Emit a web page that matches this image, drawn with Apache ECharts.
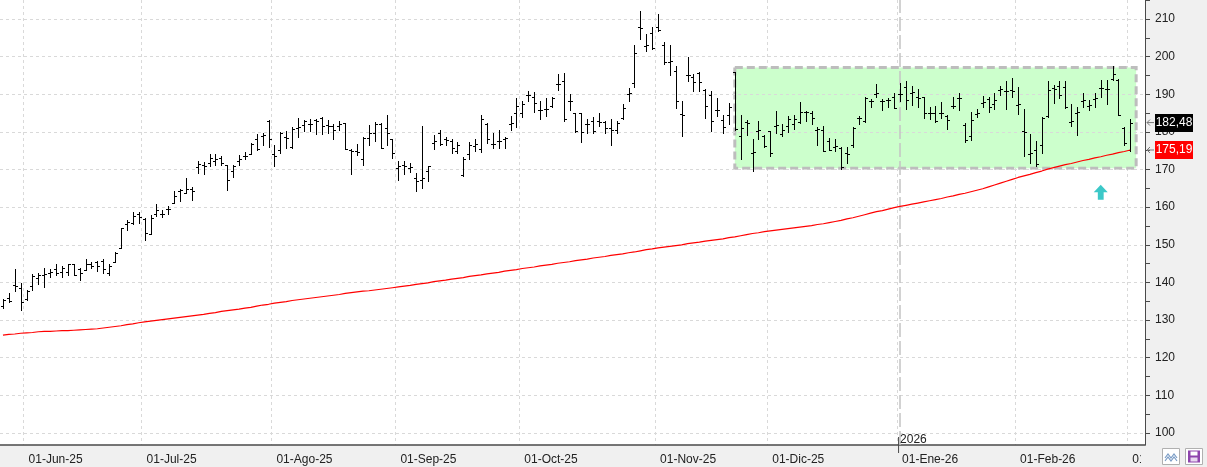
<!DOCTYPE html>
<html lang="es">
<head>
<meta charset="UTF-8">
<title>Cotización diaria</title>
<script src="https://cdn.jsdelivr.net/npm/echarts@6/dist/echarts.min.js"></script>
<style>
  html, body { margin: 0; padding: 0; background: #f0f0f0; }
  #chart { width: 1207px; height: 467px; }
</style>
</head>
<body>
<div id="chart"></div>
<script>
// sesiones: del 27-May-25 al 04-Mar-26 (los dos ultimos huecos quedan vacios)
var firstDay = '2025-05-27';
var lastDay = '2026-03-04';
var holidays = ['2025-06-19', '2025-07-04', '2025-09-01', '2025-11-27', '2025-12-25',
                '2026-01-01', '2026-01-19', '2026-02-16'];
var monthNames = ['Ene', 'Feb', 'Mar', 'Abr', 'May', 'Jun', 'Jul', 'Ago', 'Sep', 'Oct', 'Nov', 'Dic'];

var opens = [
  133.7, 135.9, 139.2, 138.6, 135.7, 139.0, 141.2, 142.1, 142.6, 143.5,
  142.7, 142.7, 144.8, 143.5, 143.4, 144.8, 145.4, 145.7, 142.6, 145.4,
  149.2, 155.4, 155.8, 158.3, 156.9, 152.9, 158.1, 158.3, 159.4, 161.2,
  164.2, 163.8, 164.7, 170.8, 171.3, 171.8, 172.2, 173.1, 171.3, 169.6,
  172.2, 173.5, 174.0, 178.0, 178.8, 182.8, 174.0, 175.3, 178.6, 175.9,
  181.1, 181.8, 182.2, 183.1, 183.7, 181.9, 181.5, 181.7, 182.4, 175.3,
  174.9, 172.7, 178.4, 179.7, 182.2, 181.1, 178.2, 170.4, 171.1, 170.4,
  167.8, 167.3, 169.6, 177.1, 179.7, 178.0, 177.5, 174.9, 168.5, 174.0,
  176.3, 175.5, 182.0, 176.9, 177.5, 178.1, 182.1, 185.0, 185.0, 189.7,
  189.2, 185.7, 186.2, 186.8, 192.6, 193.5, 188.1, 185.0, 185.0, 182.1,
  183.0, 182.8, 182.7, 181.1, 180.6, 183.7, 190.1, 193.0, 207.8, 202.9,
  206.3, 207.8, 203.2, 198.6, 196.3, 184.8, 195.0, 194.5, 195.6, 191.2,
  189.8, 185.7, 183.2, 184.5, 196.0, 178.9, 182.7, 174.5, 180.3, 178.9,
  180.3, 181.6, 179.4, 181.7, 182.0, 182.7, 185.4, 185.0, 180.5, 180.5,
  177.7, 176.1, 175.8, 174.3, 176.4, 183.6, 182.9, 188.1, 190.1, 188.1,
  188.5, 189.2, 190.0, 191.9, 190.4, 189.2, 189.4, 185.1, 185.1, 185.0,
  184.1, 186.9, 188.9, 181.9, 178.8, 184.7, 187.8, 188.7, 187.4, 191.2,
  190.9, 191.2, 187.2, 180.3, 174.2, 175.2, 176.5, 184.2, 191.6, 192.2,
  192.0, 182.7, 185.1, 188.3, 186.9, 188.8, 191.6, 191.3, 194.1, 193.8,
  181.0, 175.2
];
var highs = [
  135.7, 137.3, 143.5, 139.9, 138.1, 142.2, 142.4, 143.9, 143.5, 145.0,
  144.3, 145.0, 145.0, 143.9, 146.3, 145.4, 145.7, 146.1, 145.0, 148.1,
  154.5, 156.7, 158.8, 158.8, 157.2, 157.8, 160.9, 159.2, 160.3, 164.4,
  164.7, 167.8, 165.4, 172.2, 171.9, 174.2, 174.2, 173.5, 171.3, 171.3,
  173.8, 174.7, 177.0, 179.5, 179.7, 183.1, 176.6, 180.0, 180.2, 181.3,
  183.7, 183.1, 183.5, 183.3, 184.0, 183.1, 182.2, 183.0, 182.4, 175.5,
  176.8, 178.7, 181.9, 182.6, 182.4, 184.6, 178.2, 172.2, 172.2, 171.8,
  169.1, 181.7, 170.9, 179.3, 180.4, 178.7, 178.1, 177.3, 173.3, 177.2,
  178.0, 184.6, 182.4, 179.7, 180.4, 178.6, 184.2, 188.9, 188.3, 191.0,
  190.6, 188.1, 189.0, 189.2, 195.5, 195.7, 190.1, 185.0, 185.0, 183.3,
  183.9, 185.0, 182.8, 183.5, 183.0, 187.4, 191.7, 203.2, 212.2, 206.0,
  207.8, 211.3, 203.9, 203.0, 197.4, 188.3, 199.8, 195.4, 195.8, 191.3,
  190.9, 189.1, 184.5, 187.8, 196.0, 184.5, 183.2, 178.1, 182.9, 179.2,
  180.3, 185.6, 182.1, 184.3, 184.5, 187.9, 185.6, 185.6, 181.2, 181.6,
  178.3, 178.1, 176.1, 176.1, 181.2, 184.1, 189.2, 188.7, 192.7, 188.7,
  189.0, 190.4, 192.9, 193.6, 192.2, 191.4, 189.4, 186.7, 187.0, 187.9,
  184.5, 189.4, 190.3, 182.3, 185.4, 186.0, 189.6, 189.2, 190.3, 192.2,
  193.4, 194.2, 192.0, 186.0, 179.5, 177.7, 183.9, 193.4, 192.5, 193.4,
  193.4, 187.3, 186.5, 190.4, 188.5, 190.3, 193.8, 193.8, 197.6, 194.0,
  181.2, 183.5
];
var lows = [
  133.3, 134.8, 137.7, 132.8, 135.3, 138.1, 139.6, 138.8, 141.4, 141.9,
  141.5, 141.9, 141.9, 140.6, 143.3, 143.9, 143.0, 142.6, 141.9, 145.4,
  149.2, 153.9, 155.4, 155.8, 151.4, 152.9, 157.6, 157.4, 158.2, 161.2,
  161.6, 163.8, 162.0, 169.1, 168.8, 170.9, 171.3, 171.3, 164.5, 168.1,
  171.2, 172.7, 174.0, 175.1, 176.4, 176.0, 170.9, 174.4, 175.6, 175.8,
  178.7, 180.2, 180.2, 179.5, 179.5, 179.6, 178.1, 180.6, 175.5, 168.7,
  173.8, 171.2, 176.6, 177.5, 175.6, 176.5, 173.1, 167.2, 168.9, 169.4,
  164.2, 165.1, 166.9, 175.5, 176.5, 176.5, 174.4, 174.4, 168.2, 172.7,
  175.0, 174.6, 177.1, 175.6, 175.6, 175.6, 180.4, 181.3, 183.9, 188.1,
  185.3, 183.3, 184.2, 186.6, 191.2, 183.0, 185.7, 179.9, 177.3, 179.7,
  179.7, 181.5, 179.7, 176.6, 179.7, 183.5, 188.3, 191.9, 204.7, 201.4,
  202.1, 206.9, 198.1, 195.0, 186.4, 178.8, 193.5, 191.0, 191.0, 183.6,
  180.3, 184.1, 179.6, 182.1, 180.5, 172.7, 179.2, 169.5, 178.1, 176.1,
  173.5, 179.8, 179.0, 180.1, 180.7, 182.5, 183.0, 182.1, 176.4, 174.8,
  175.2, 174.8, 170.1, 171.7, 176.1, 182.1, 182.7, 186.5, 189.4, 185.7,
  186.7, 186.3, 188.1, 186.0, 187.2, 186.7, 183.6, 183.4, 182.7, 183.6,
  180.7, 186.3, 185.8, 177.4, 177.9, 183.9, 186.7, 185.4, 186.0, 189.8,
  186.0, 189.2, 184.8, 173.6, 171.7, 171.0, 174.3, 183.9, 187.8, 188.9,
  186.3, 181.6, 179.2, 186.7, 185.7, 186.7, 189.4, 187.4, 193.8, 184.5,
  176.5, 174.8
];
var closes = [
  135.4, 135.0, 139.0, 134.9, 137.7, 141.7, 142.1, 142.3, 142.7, 142.6,
  143.9, 144.8, 142.0, 142.4, 145.0, 144.3, 144.3, 143.6, 144.5, 147.9,
  154.5, 156.0, 157.6, 157.4, 153.2, 157.2, 159.2, 158.3, 159.6, 163.1,
  164.5, 164.9, 164.2, 171.5, 171.0, 173.1, 172.8, 171.8, 167.2, 170.9,
  172.7, 173.7, 176.8, 175.5, 179.3, 178.0, 173.7, 179.7, 178.4, 180.8,
  181.3, 182.8, 182.0, 183.0, 181.7, 181.7, 180.6, 182.2, 175.5, 175.0,
  174.7, 178.4, 179.7, 182.2, 175.8, 179.7, 174.4, 170.9, 170.9, 170.6,
  166.9, 167.8, 170.9, 177.5, 176.8, 177.9, 175.8, 176.6, 172.8, 176.4,
  176.8, 183.5, 178.0, 176.8, 177.7, 178.3, 182.3, 186.8, 187.3, 189.9,
  187.7, 185.9, 186.0, 189.0, 192.8, 183.3, 188.3, 180.2, 179.9, 182.0,
  180.2, 182.7, 181.1, 180.4, 182.4, 186.4, 190.3, 201.0, 207.6, 203.1,
  202.3, 207.2, 198.6, 198.8, 188.3, 184.6, 195.2, 193.2, 193.2, 186.9,
  183.0, 185.8, 181.2, 186.7, 180.7, 181.0, 182.5, 174.7, 180.5, 176.3,
  174.5, 181.8, 180.5, 183.5, 183.4, 185.4, 185.2, 183.6, 180.7, 175.0,
  175.2, 176.3, 170.6, 174.2, 181.0, 183.8, 188.9, 188.3, 190.3, 188.3,
  188.6, 186.3, 190.2, 188.5, 190.6, 188.9, 185.1, 185.0, 183.0, 185.1,
  183.2, 187.0, 189.0, 177.9, 183.2, 184.9, 188.0, 186.7, 188.5, 191.4,
  191.0, 191.0, 187.4, 180.1, 174.4, 171.5, 183.6, 191.2, 191.4, 189.8,
  186.5, 182.9, 185.3, 188.5, 187.1, 189.0, 191.8, 191.5, 195.5, 184.5,
  177.0, 182.48
];
// media movil (linea roja)
var ma200 = [
  126.0, 126.2, 126.3, 126.5, 126.6, 126.7, 126.9, 127.0, 127.0, 127.1,
  127.2, 127.2, 127.3, 127.4, 127.5, 127.6, 127.7, 127.9, 128.1, 128.3,
  128.5, 128.8, 129.0, 129.3, 129.5, 129.7, 129.9, 130.1, 130.3, 130.5,
  130.7, 130.9, 131.1, 131.3, 131.5, 131.8, 132.0, 132.3, 132.5, 132.7,
  132.9, 133.2, 133.4, 133.7, 134.0, 134.2, 134.5, 134.7, 134.9, 135.2,
  135.4, 135.6, 135.8, 136.0, 136.2, 136.4, 136.6, 136.8, 137.1, 137.3,
  137.5, 137.7, 137.8, 138.0, 138.2, 138.4, 138.6, 138.8, 139.0, 139.2,
  139.5, 139.7, 139.9, 140.2, 140.4, 140.6, 140.9, 141.1, 141.3, 141.6,
  141.8, 142.0, 142.3, 142.5, 142.7, 143.0, 143.2, 143.4, 143.7, 143.9,
  144.1, 144.4, 144.6, 144.8, 145.1, 145.3, 145.5, 145.8, 146.0, 146.2,
  146.5, 146.7, 146.9, 147.2, 147.4, 147.6, 147.9, 148.1, 148.4, 148.7,
  148.9, 149.2, 149.4, 149.6, 149.8, 150.0, 150.3, 150.5, 150.7, 151.0,
  151.2, 151.4, 151.6, 151.9, 152.1, 152.4, 152.7, 153.0, 153.2, 153.5,
  153.7, 153.9, 154.1, 154.3, 154.5, 154.7, 154.9, 155.1, 155.4, 155.6,
  155.9, 156.2, 156.5, 156.9, 157.2, 157.6, 158.0, 158.4, 158.8, 159.1,
  159.5, 159.9, 160.2, 160.5, 160.8, 161.1, 161.4, 161.7, 162.0, 162.3,
  162.7, 163.0, 163.4, 163.7, 164.1, 164.5, 164.9, 165.4, 165.9, 166.4,
  166.9, 167.4, 167.9, 168.3, 168.7, 169.2, 169.6, 170.1, 170.5, 170.9,
  171.3, 171.6, 172.0, 172.4, 172.7, 173.1, 173.4, 173.8, 174.1, 174.5,
  174.8, 175.19
];

var yTicks = [100, 110, 120, 130, 140, 150, 160, 170, 180, 190, 200, 210];
var yMinorTicks = [100, 105, 110, 115, 120, 125, 130, 135, 140, 145, 150, 155, 160,
                   165, 170, 175, 180, 185, 190, 195, 200, 205, 210, 215];

// rango lateral (caja verde) y señal de compra
var boxStart = 124, boxEnd = 192, boxTop = 197.1, boxBottom = 170.35;
var signalIndex = 186, signalValue = 164.0;

// construir las sesiones
var dates = [];
(function () {
  var d = new Date(firstDay + 'T00:00:00Z');
  var end = new Date(lastDay + 'T00:00:00Z');
  while (d <= end) {
    var s = d.toISOString().slice(0, 10);
    var wd = d.getUTCDay();
    if (wd !== 0 && wd !== 6 && holidays.indexOf(s) < 0) dates.push(s);
    d.setUTCDate(d.getUTCDate() + 1);
  }
})();

function isMonthStart(i) {
  return i > 0 && i < dates.length && dates[i].slice(5, 7) !== dates[i - 1].slice(5, 7);
}
function monthLabel(s) {
  return '01-' + monthNames[+s.slice(5, 7) - 1] + '-' + s.slice(2, 4);
}

var ohlc = [];
for (var i = 0; i < closes.length; i++) {
  ohlc.push([i, opens[i], closes[i], lows[i], highs[i]]);
}

var yearIndex = dates.indexOf('2026-01-02');

function renderOhlc(params, api) {
  var idx = api.value(0);
  var x = Math.round(api.coord([idx, 0])[0]) + 0.5;
  var yo = Math.round(api.coord([idx, api.value(1)])[1]) + 0.5;
  var yc = Math.round(api.coord([idx, api.value(2)])[1]) + 0.5;
  var yl = Math.round(api.coord([idx, api.value(3)])[1]);
  var yh = Math.round(api.coord([idx, api.value(4)])[1]);
  var st = { stroke: '#000', lineWidth: 1 };
  return {
    type: 'group',
    children: [
      { type: 'line', shape: { x1: x, y1: yh, x2: x, y2: yl + 1 }, style: st },
      { type: 'line', shape: { x1: x - 2.5, y1: yo, x2: x, y2: yo }, style: st },
      { type: 'line', shape: { x1: x, y1: yc, x2: x + 2.5, y2: yc }, style: st }
    ]
  };
}

var chart = echarts.init(document.getElementById('chart'));
var font = 'Liberation Sans';

var option = {
  animation: false,
  backgroundColor: '#f0f0f0',
  textStyle: { fontFamily: font },
  grid: { left: 0, right: 62, top: 0, bottom: 22, show: true, backgroundColor: '#fff', borderWidth: 0 },
  xAxis: {
    type: 'category',
    data: dates,
    boundaryGap: true,
    axisLine: { lineStyle: { color: '#4a4a4a', width: 1.5 } },
    axisTick: { interval: isMonthStart, length: 8, lineStyle: { color: '#4a4a4a' } },
    axisLabel: {
      interval: isMonthStart, formatter: monthLabel, align: 'left',
      margin: 9, padding: [0, 0, 0, 2], color: '#222', fontSize: 12, fontFamily: font
    },
    splitLine: { show: true, interval: isMonthStart, lineStyle: { type: [3, 3], color: '#d9d9d9' } }
  },
  yAxis: {
    type: 'value',
    position: 'right',
    min: 96.81,
    max: 215.05,
    axisLine: { show: true, lineStyle: { color: '#4a4a4a' } },
    axisTick: { show: true, customValues: yMinorTicks, length: 5, lineStyle: { color: '#4a4a4a' } },
    axisLabel: { customValues: yTicks, color: '#222', fontSize: 12, margin: 10, fontFamily: font },
    splitLine: { show: false }
  },
  series: [
    {
      // caja del rango lateral
      type: 'line',
      data: [],
      z: 1,
      silent: true,
      markArea: {
        silent: true,
        itemStyle: { color: '#ccffcc', borderColor: '#bdbdbd', borderWidth: 3, borderType: [8, 4] },
        data: [[{ xAxis: boxStart, yAxis: boxTop }, { xAxis: boxEnd, yAxis: boxBottom }]]
      }
    },
    {
      // rejilla horizontal y linea del cambio de año
      type: 'line',
      data: [],
      z: 2,
      silent: true,
      markLine: {
        silent: true,
        symbol: 'none',
        label: { show: false },
        lineStyle: { type: [3, 3], color: '#d9d9d9', width: 1 },
        data: yTicks.map(function (v) { return { yAxis: v }; })
          .concat([{ xAxis: yearIndex - 0.5, lineStyle: { type: [14, 4], color: '#c4c4c4', width: 1.5 } }])
      }
    },
    {
      type: 'custom',
      name: 'OHLC',
      data: ohlc,
      z: 5,
      encode: { x: 0, y: [1, 2, 3, 4] },
      renderItem: renderOhlc,
      markPoint: {
        silent: true,
        symbol: 'path://M6,0 L12,7 L8.5,7 L8.5,14 L3.5,14 L3.5,7 L0,7 Z',
        symbolSize: [14, 15],
        itemStyle: { color: '#3cc8c8' },
        label: { show: false },
        data: [{ coord: [signalIndex, signalValue] }]
      }
    },
    {
      type: 'line',
      name: 'Media 200',
      data: ma200,
      z: 6,
      symbol: 'none',
      lineStyle: { color: '#ff0000', width: 1.2 }
    }
  ]
};
chart.setOption(option);

// etiquetas del ultimo precio y de la media, sobre el eje derecho
var axisX = 1207 - 62;
var yClose = chart.convertToPixel({ yAxisIndex: 0 }, closes[closes.length - 1]);
var yMa = chart.convertToPixel({ yAxisIndex: 0 }, ma200[ma200.length - 1]);
var yYear = chart.convertToPixel({ yAxisIndex: 0 }, 98.2);
var xYear = chart.convertToPixel({ xAxisIndex: 0 }, yearIndex) - 2;

function priceTag(y, value, bg) {
  return [
    { type: 'polyline', z: 20, shape: { points: [[axisX + 9, y], [axisX + 2, y]] }, style: { stroke: '#777', lineWidth: 1, fill: null } },
    { type: 'polyline', z: 20, shape: { points: [[axisX + 5, y - 3], [axisX + 2, y], [axisX + 5, y + 3]] }, style: { stroke: '#777', lineWidth: 1, fill: null } },
    { type: 'rect', z: 20, shape: { x: axisX + 10, y: Math.round(y) - 9, width: 38, height: 18 }, style: { fill: bg } },
    { type: 'text', z: 21, x: axisX + 29, y: Math.round(y), style: { text: value, fill: '#fff', font: '12px ' + font, align: 'center', verticalAlign: 'middle' } }
  ];
}

var graphics = []
  .concat(priceTag(yClose, closes[closes.length - 1].toFixed(2).replace('.', ','), '#000'))
  .concat(priceTag(yMa, ma200[ma200.length - 1].toFixed(2).replace('.', ','), '#ff0000'))
  .concat([
    // marca del cambio de año
    { type: 'line', z: 15, shape: { x1: xYear + 0.5, y1: 437, x2: xYear + 0.5, y2: 453 }, style: { stroke: '#4a4a4a', lineWidth: 1 } },
    { type: 'text', z: 15, x: xYear + 2, y: yYear, style: { text: '2026', fill: '#222', font: '12px ' + font, verticalAlign: 'middle' } },
    // panel inferior derecho con iconos
    { type: 'rect', z: 15, shape: { x: axisX - 4, y: 446, width: 70, height: 21 }, style: { fill: '#f0f0f0' } },
    { type: 'rect', z: 16, shape: { x: 1162.5, y: 448.5, width: 17, height: 16 }, style: { fill: '#fff', stroke: '#b0b0b0', lineWidth: 1 } },
    { type: 'polyline', z: 17, shape: { points: [[1165, 458], [1168, 454], [1171, 458], [1174, 454], [1177, 458]] }, style: { stroke: '#7a9cc6', lineWidth: 1.2, fill: null } },
    { type: 'polyline', z: 17, shape: { points: [[1165, 461], [1168, 457], [1171, 461], [1174, 457], [1177, 461]] }, style: { stroke: '#7a9cc6', lineWidth: 1.2, fill: null } },
    { type: 'rect', z: 16, shape: { x: 1185.5, y: 448.5, width: 17, height: 16 }, style: { fill: '#fff', stroke: '#b0b0b0', lineWidth: 1 } },
    { type: 'rect', z: 17, shape: { x: 1188, y: 450.5, width: 12, height: 12 }, style: { fill: '#8e44ad' } },
    { type: 'rect', z: 18, shape: { x: 1190.5, y: 451.5, width: 7, height: 4 }, style: { fill: '#fff' } },
    { type: 'rect', z: 18, shape: { x: 1190.5, y: 457.5, width: 7, height: 4 }, style: { fill: '#e8d8f0' } }
  ]);

chart.setOption({ graphic: graphics });
</script>
</body>
</html>
